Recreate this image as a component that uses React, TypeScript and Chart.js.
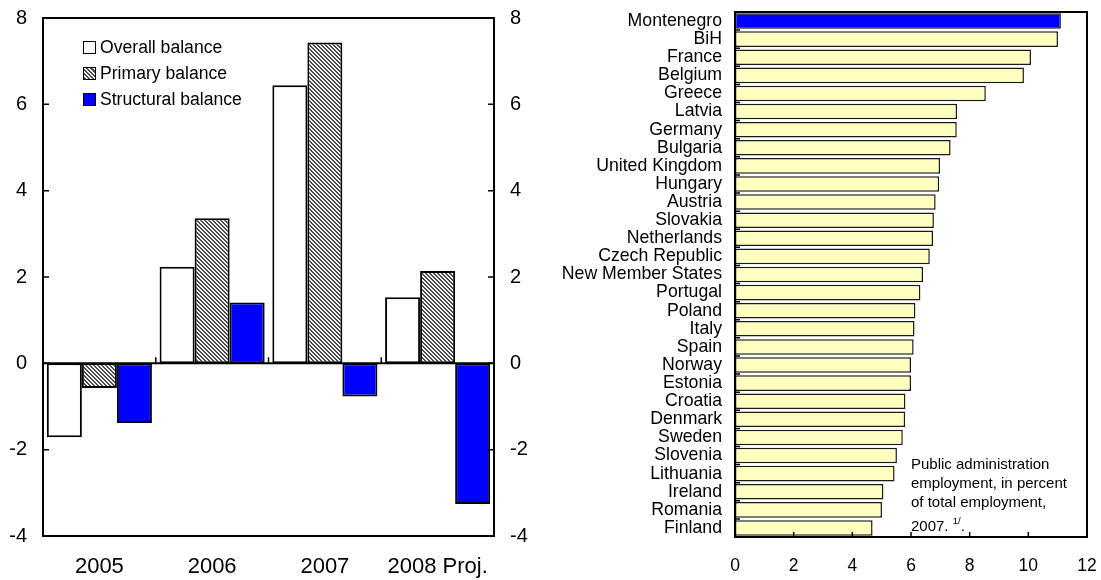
import React, { useEffect, useRef } from "react";
import { Chart, registerables } from "chart.js";

Chart.register(...registerables);

// ---------- Data ----------
const years = ["2005", "2006", "2007", "2008 Proj."];
const overallBalance = [-1.71, 2.24, 6.44, 1.53];
const primaryBalance = [-0.57, 3.36, 7.43, 2.14];
const structuralBalance = [-1.38, 1.41, -0.77, -3.26];
const balanceTicks = [-4, -2, 0, 2, 4, 6, 8];

const countries = [
  "Montenegro", "BiH", "France", "Belgium", "Greece", "Latvia", "Germany",
  "Bulgaria", "United Kingdom", "Hungary", "Austria", "Slovakia", "Netherlands",
  "Czech Republic", "New Member States", "Portugal", "Poland", "Italy", "Spain",
  "Norway", "Estonia", "Croatia", "Denmark", "Sweden", "Slovenia", "Lithuania",
  "Ireland", "Romania", "Finland",
];
const employmentShare = [
  11.11, 11.01, 10.09, 9.85, 8.55, 7.57, 7.56, 7.35, 6.99, 6.96, 6.84, 6.78,
  6.75, 6.64, 6.41, 6.32, 6.15, 6.12, 6.09, 6.0, 6.0, 5.81, 5.8, 5.72, 5.52,
  5.44, 5.06, 5.01, 4.69,
];
const employmentTicks = [0, 2, 4, 6, 8, 10, 12];

const legendItems = ["Overall balance", "Primary balance", "Structural balance"];
const noteLines = [
  "Public administration",
  "employment, in percent",
  "of total employment,",
];

const FONT = "'Liberation Sans', Arial, Helvetica, sans-serif";
Chart.defaults.font.family = FONT;
Chart.defaults.color = "#000";

function makeHatch(): CanvasPattern | string {
  const c = document.createElement("canvas");
  c.width = 4;
  c.height = 4;
  const g = c.getContext("2d");
  if (!g) return "#888";
  g.fillStyle = "#f4f4f4";
  g.fillRect(0, 0, 4, 4);
  g.fillStyle = "#4a4a4a";
  for (let y = 0; y < 4; y++) {
    for (let x = 0; x < 4; x++) {
      if (((x - y + 8) % 4) < 2) g.fillRect(x, y, 1, 1);
    }
  }
  const p = g.createPattern(c, "repeat");
  return p || "#888";
}

const leftDecor = {
  id: "leftDecor",
  afterDatasetsDraw(chart: any) {
    const { ctx, chartArea: a } = chart;
    const ys = chart.scales.y;
    const xs = chart.scales.x;
    ctx.save();
    ctx.strokeStyle = "#000";
    ctx.lineWidth = 2;
    ctx.strokeRect(a.left, a.top, a.right - a.left, a.bottom - a.top);
    const y0 = ys.getPixelForValue(0);
    ctx.beginPath();
    ctx.moveTo(a.left, y0);
    ctx.lineTo(a.right, y0);
    ctx.stroke();
    ctx.lineWidth = 1.5;
    ctx.beginPath();
    balanceTicks.forEach((v) => {
      const py = ys.getPixelForValue(v);
      ctx.moveTo(a.left, py);
      ctx.lineTo(a.left + 6, py);
      ctx.moveTo(a.right, py);
      ctx.lineTo(a.right - 6, py);
    });
    for (let i = 0; i < years.length - 1; i++) {
      const bx = (xs.getPixelForValue(i) + xs.getPixelForValue(i + 1)) / 2;
      ctx.moveTo(bx, y0);
      ctx.lineTo(bx, y0 - 6);
    }
    ctx.stroke();
    ctx.restore();
  },
};

const rightDecor = {
  id: "rightDecor",
  afterDatasetsDraw(chart: any) {
    const { ctx, chartArea: a } = chart;
    const xs = chart.scales.x;
    const ys = chart.scales.y;
    ctx.save();
    ctx.strokeStyle = "#000";
    ctx.lineWidth = 2;
    ctx.strokeRect(a.left, a.top, a.right - a.left, a.bottom - a.top);
    ctx.lineWidth = 1.5;
    ctx.beginPath();
    employmentTicks.forEach((v) => {
      const px = xs.getPixelForValue(v);
      ctx.moveTo(px, a.bottom);
      ctx.lineTo(px, a.bottom - 5);
    });
    for (let i = 0; i < countries.length - 1; i++) {
      const by = (ys.getPixelForValue(i) + ys.getPixelForValue(i + 1)) / 2;
      ctx.moveTo(a.left, by);
      ctx.lineTo(a.left + 5, by);
    }
    ctx.stroke();
    ctx.restore();
  },
};

// tick marks are hidden (grid.display false) but tickLength sets the label gap
const gap = (n: number) => ({ display: false, drawTicks: true, tickLength: n });

function BalanceChart() {
  const ref = useRef<HTMLCanvasElement>(null);
  useEffect(() => {
    if (!ref.current) return;
    const hatch = makeHatch();
    const chart = new Chart(ref.current, {
      type: "bar",
      data: {
        labels: years,
        datasets: [
          { label: legendItems[0], data: overallBalance, backgroundColor: "#ffffff" },
          { label: legendItems[1], data: primaryBalance, backgroundColor: hatch as any },
          { label: legendItems[2], data: structuralBalance, backgroundColor: "#0000ff" },
        ].map((d) => ({
          ...d,
          borderColor: "#000",
          borderWidth: 2,
          borderSkipped: false,
          categoryPercentage: 0.932,
          barPercentage: 1,
        })) as any,
      },
      options: {
        responsive: false,
        animation: false,
        layout: { padding: { top: 18, left: 0, right: 0, bottom: 0 } },
        plugins: { legend: { display: false }, tooltip: { enabled: false } },
        scales: {
          x: {
            grid: gap(18),
            border: { display: false },
            ticks: { font: { size: 22 }, padding: 0, color: "#000" },
            afterFit: (s: any) => { s.height = 44; },
          },
          y: {
            min: -4,
            max: 8,
            position: "left",
            grid: gap(16),
            border: { display: false },
            ticks: { stepSize: 2, font: { size: 20 }, padding: 0, color: "#000" },
            afterFit: (s: any) => { s.width = 43; },
          },
          y2: {
            type: "linear",
            min: -4,
            max: 8,
            position: "right",
            grid: gap(16),
            border: { display: false },
            ticks: { stepSize: 2, font: { size: 20 }, padding: 0, color: "#000" },
            afterFit: (s: any) => { s.width = 46; },
          },
        },
      },
      plugins: [leftDecor],
    });
    return () => chart.destroy();
  }, []);
  return <canvas ref={ref} width={540} height={580} style={{ display: "block" }} />;
}

function EmploymentChart() {
  const ref = useRef<HTMLCanvasElement>(null);
  useEffect(() => {
    if (!ref.current) return;
    const chart = new Chart(ref.current, {
      type: "bar",
      data: {
        labels: countries,
        datasets: [
          {
            label: "Public administration employment",
            data: employmentShare,
            backgroundColor: countries.map((c) => (c === "Montenegro" ? "#0000ff" : "#ffffc0")),
            borderColor: "#1a1a1a",
            borderWidth: 1.5,
            borderSkipped: false,
            categoryPercentage: 1,
            barPercentage: 0.86,
          } as any,
        ],
      },
      options: {
        indexAxis: "y",
        responsive: false,
        animation: false,
        layout: { padding: { top: 12, right: 14, left: 0, bottom: 0 } },
        plugins: { legend: { display: false }, tooltip: { enabled: false } },
        scales: {
          x: {
            min: 0,
            max: 12,
            grid: gap(19),
            border: { display: false },
            ticks: { stepSize: 2, font: { size: 17.5 }, padding: 0, color: "#000" },
            afterFit: (s: any) => { s.height = 43; },
          },
          y: {
            grid: gap(13),
            border: { display: false },
            ticks: { autoSkip: false, font: { size: 17.7 }, padding: 0, color: "#000" },
            afterFit: (s: any) => { s.width = 195; },
          },
        },
      },
      plugins: [rightDecor],
    });
    return () => chart.destroy();
  }, []);
  return <canvas ref={ref} width={561} height={580} style={{ display: "block" }} />;
}

export default function App() {
  const hatchCss =
    "repeating-linear-gradient(45deg, #4a4a4a 0px, #4a4a4a 1.5px, #f4f4f4 1.5px, #f4f4f4 3px)";
  const boxFills = ["#ffffff", hatchCss, "#0000ff"];
  const legendTops = [40, 66, 92];
  const noteTops = [456, 475, 494];
  return (
    <div
      style={{
        position: "absolute",
        left: 0,
        top: 0,
        width: 1101,
        height: 580,
        background: "#fff",
        fontFamily: FONT,
        color: "#000",
        overflow: "hidden",
      }}
    >
      <div style={{ position: "absolute", left: 0, top: 0 }}>
        <BalanceChart />
      </div>
      <div style={{ position: "absolute", left: 540, top: 0 }}>
        <EmploymentChart />
      </div>
      {legendItems.map((t, i) => (
        <div
          key={t}
          style={{
            position: "absolute",
            left: 83,
            top: legendTops[i],
            height: 14,
            display: "flex",
            alignItems: "center",
            whiteSpace: "nowrap",
          }}
        >
          <span
            style={{
              display: "inline-block",
              width: 13,
              height: 13,
              boxSizing: "border-box",
              border: "1.5px solid #000",
              background: boxFills[i],
              marginRight: 4,
            }}
          />
          <span style={{ fontSize: 17.6, lineHeight: "14px" }}>{t}</span>
        </div>
      ))}
      {noteLines.map((t, i) => (
        <div
          key={t}
          style={{
            position: "absolute",
            left: 911,
            top: noteTops[i],
            fontSize: 15,
            lineHeight: "16px",
            whiteSpace: "nowrap",
          }}
        >
          {t}
        </div>
      ))}
      <div
        style={{
          position: "absolute",
          left: 911,
          top: 518,
          fontSize: 15,
          lineHeight: "16px",
          whiteSpace: "nowrap",
        }}
      >
        2007.{" "}
        <span style={{ fontSize: 9.5, position: "relative", top: -7 }}>1/</span>.
      </div>
    </div>
  );
}
